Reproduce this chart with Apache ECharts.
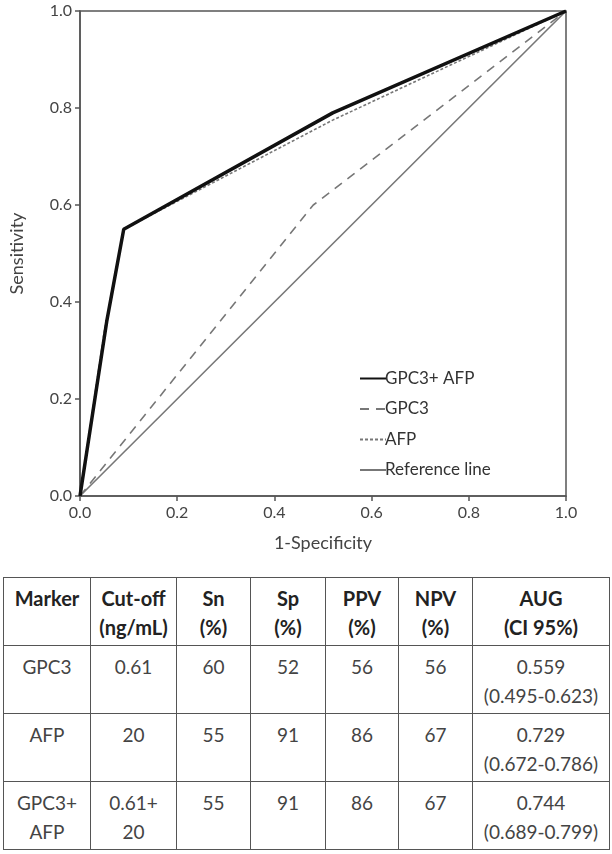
<!DOCTYPE html>
<html>
<head>
<meta charset="utf-8">
<script src="https://cdn.jsdelivr.net/npm/echarts@6/dist/echarts.min.js"></script>
<style>
html,body{margin:0;padding:0;background:#fff;width:612px;height:854px;overflow:hidden;font-family:Lato,"Open Sans",sans-serif;}
#chart{position:absolute;left:0;top:0;width:612px;height:565px;}
#tbl{position:absolute;left:3px;top:577px;border-collapse:collapse;color:#333;table-layout:fixed;}
#tbl td,#tbl th{border:1.5px solid #555;text-align:center;vertical-align:top;padding:6px 0 0 0;font-size:19px;line-height:29px;box-sizing:border-box;}
#tbl th{font-weight:bold;height:68px;color:#222;font-size:20px;}
#tbl td{font-weight:normal;height:68px;color:#444;}
</style>
</head>
<body>
<div id="chart"></div>
<table id="tbl"></table>
<script>
// ---- data ----
var xTicks = [0, 0.2, 0.4, 0.6, 0.8, 1.0];
var combinedFpr = [0, 0.055, 0.09, 0.52, 1];
var combinedTpr = [0, 0.36, 0.55, 0.79, 1];
var gpc3Fpr = [0, 0.48, 1];
var gpc3Tpr = [0, 0.60, 1];
var afpFpr = [0, 0.05, 0.09, 0.52, 1];
var afpTpr = [0, 0.34, 0.55, 0.775, 1];
var refFpr = [0, 1];
var refTpr = [0, 1];
var seriesNames = ['GPC3+ AFP', 'GPC3', 'AFP', 'Reference line'];

var tableHeader = ['Marker', 'Cut-off<br>(ng/mL)', 'Sn<br>(%)', 'Sp<br>(%)', 'PPV<br>(%)', 'NPV<br>(%)', 'AUG<br>(CI 95%)'];
var tableMarkers = ['GPC3', 'AFP', 'GPC3+<br>AFP'];
var tableCutoff = ['0.61', '20', '0.61+<br>20'];
var tableSn = [60, 55, 55];
var tableSp = [52, 91, 91];
var tablePPV = [56, 86, 86];
var tableNPV = [56, 67, 67];
var tableAUC = ['0.559<br>(0.495-0.623)', '0.729<br>(0.672-0.786)', '0.744<br>(0.689-0.799)'];
var colWidths = [87, 86, 74, 75, 73, 74, 137];

function pairs(xs, ys){ return xs.map(function(x,i){ return [x, ys[i]]; }); }

var chart = echarts.init(document.getElementById('chart'));
var axisCommon = {
  type: 'value', min: 0, max: 1, interval: 0.2,
  axisLine: {show: true, lineStyle: {color: '#555', width: 1.5}},
  axisTick: {show: true, length: 5, lineStyle: {color: '#555', width: 1.5}},
  axisLabel: {color: '#444', fontSize: 16, fontFamily: 'Lato', formatter: function(v){ return v.toFixed(1); }},
  splitLine: {show: false},
  nameLocation: 'middle',
  nameTextStyle: {color: '#444', fontSize: 18, fontFamily: 'Lato'}
};
chart.setOption({
  animation: false,
  grid: {left: 80, right: 46, top: 11, bottom: 69, show: true, borderColor: '#555', borderWidth: 1.5, backgroundColor: '#fff'},
  xAxis: Object.assign({}, axisCommon, {name: '1-Specificity', nameGap: 38, axisLabel: Object.assign({}, axisCommon.axisLabel, {margin: 9})}),
  yAxis: Object.assign({}, axisCommon, {name: 'Sensitivity', nameGap: 54, axisLabel: Object.assign({}, axisCommon.axisLabel, {margin: 8})}),
  legend: {
    orient: 'vertical', left: 354, top: 365, itemWidth: 26, itemHeight: 15, itemGap: 13.5,
    itemStyle: {opacity: 0},
    textStyle: {color: '#333', fontSize: 17, fontFamily: 'Lato', padding: [0,0,0,-6]},
    data: seriesNames
  },
  series: [
    {name: seriesNames[3], type: 'line', data: pairs(refFpr, refTpr), symbol: 'none', lineStyle: {color: '#777', width: 1.6}, itemStyle: {color: '#777'}, z: 1},
    {name: seriesNames[1], type: 'line', data: pairs(gpc3Fpr, gpc3Tpr), symbol: 'none', lineStyle: {color: '#777', width: 1.6, type: [9, 7]}, itemStyle: {color: '#777'}, z: 2},
    {name: seriesNames[2], type: 'line', data: pairs(afpFpr, afpTpr), symbol: 'none', lineStyle: {color: '#777', width: 1.6, type: [3, 2]}, itemStyle: {color: '#777'}, z: 3},
    {name: seriesNames[0], type: 'line', data: pairs(combinedFpr, combinedTpr), symbol: 'none', lineStyle: {color: '#111', width: 3.5}, itemStyle: {color: '#111'}, z: 4}
  ]
});

// table
var tbl = document.getElementById('tbl');
var html = '<tr>' + tableHeader.map(function(h,i){ return '<th style="width:' + colWidths[i] + 'px">' + h + '</th>'; }).join('') + '</tr>';
for (var r = 0; r < tableMarkers.length; r++) {
  var cells = [tableMarkers[r], tableCutoff[r], tableSn[r], tableSp[r], tablePPV[r], tableNPV[r], tableAUC[r]];
  html += '<tr>' + cells.map(function(c){ return '<td>' + c + '</td>'; }).join('') + '</tr>';
}
tbl.innerHTML = html;
</script>
</body>
</html>
